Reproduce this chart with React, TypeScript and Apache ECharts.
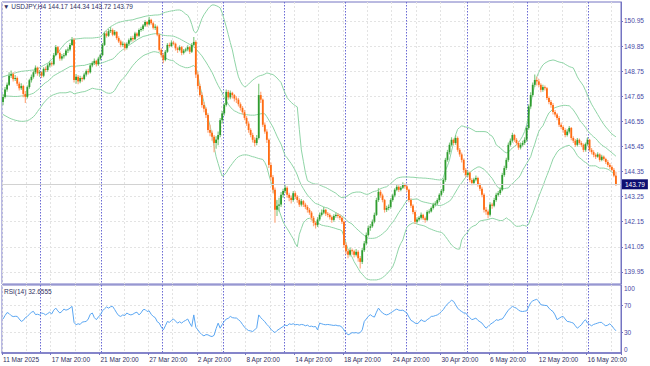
import React, { useEffect, useRef } from "react";
import * as echarts from "echarts";

// ---- DATA ----
// H4 candles: [open, high, low, close]
const candles: number[][] = [
  // 0
  [147.40,147.75,147.25,147.62],[147.62,148.05,147.55,147.95],[147.95,148.25,147.85,148.15],[148.15,148.70,148.10,148.55],[148.55,148.78,148.45,148.62],
  [148.62,148.70,148.30,148.40],[148.40,148.58,148.32,148.45],[148.45,148.52,148.10,148.20],[148.20,148.28,147.90,148.00],[148.00,148.22,147.92,148.10],
  // 10
  [148.10,148.15,147.60,147.75],[147.75,147.88,147.35,147.62],[147.62,148.12,147.55,148.05],[148.05,148.42,147.98,148.35],[148.35,148.60,148.25,148.50],
  [148.50,148.78,148.42,148.70],[148.70,149.00,148.62,148.90],[148.90,148.95,148.55,148.65],[148.65,148.80,148.50,148.70],[148.70,148.75,148.45,148.55],
  // 20
  [148.55,148.92,148.48,148.85],[148.85,148.95,148.70,148.80],[148.80,149.08,148.72,149.00],[149.00,149.20,148.92,149.10],[149.10,149.18,148.95,149.05],
  [149.05,149.55,149.00,149.45],[149.45,149.90,149.40,149.80],[149.80,149.85,149.48,149.55],[149.55,149.62,149.20,149.30],[149.30,149.50,149.22,149.40],
  // 30
  [149.40,149.55,149.30,149.45],[149.45,149.72,149.40,149.65],[149.65,149.80,149.55,149.70],[149.70,149.98,149.62,149.90],[149.90,150.25,149.85,150.12],
  [150.12,150.20,148.25,148.36],[148.36,148.62,148.20,148.50],[148.50,148.58,148.18,148.30],[148.30,148.55,148.22,148.45],[148.45,148.52,148.28,148.40],
  // 40
  [148.40,148.68,148.35,148.60],[148.60,148.82,148.52,148.75],[148.75,148.85,148.60,148.70],[148.70,149.08,148.65,149.00],[149.00,149.18,148.92,149.10],
  [149.10,149.30,149.02,149.20],[149.20,149.25,148.95,149.05],[149.05,149.38,148.98,149.30],[149.30,149.52,149.22,149.45],[149.45,149.98,149.40,149.90],
  // 50
  [149.90,150.48,149.85,150.40],[150.40,150.52,150.22,150.30],[150.30,150.60,150.25,150.50],[150.50,150.68,150.42,150.55],[150.55,150.62,150.28,150.35],
  [150.35,150.55,150.30,150.47],[150.47,150.50,150.12,150.20],[150.20,150.28,149.98,150.05],[150.05,150.12,149.80,149.90],[149.90,150.05,149.82,149.95],
  // 60
  [149.95,150.00,149.65,149.77],[149.77,150.02,149.70,149.95],[149.95,150.18,149.88,150.10],[150.10,150.28,150.02,150.20],[150.20,150.30,150.05,150.15],
  [150.15,150.48,150.10,150.40],[150.40,150.45,150.22,150.30],[150.30,150.62,150.25,150.55],[150.55,150.70,150.48,150.60],[150.60,150.82,150.52,150.75],
  // 70
  [150.75,150.98,150.68,150.90],[150.90,150.95,150.70,150.80],[150.80,151.12,150.75,151.00],[151.00,151.05,150.78,150.85],[150.85,150.92,150.58,150.65],
  [150.65,150.80,150.55,150.70],[150.70,150.75,150.28,150.35],[150.35,150.40,149.60,149.68],[149.68,149.75,149.35,149.45],[149.45,149.55,149.10,149.24],
  // 80
  [149.24,149.68,149.18,149.60],[149.60,149.98,149.55,149.90],[149.90,150.00,149.78,149.85],[149.85,150.10,149.80,150.00],[150.00,150.08,149.88,149.95],
  [149.95,150.00,149.65,149.75],[149.75,149.82,149.55,149.68],[149.68,149.88,149.62,149.80],[149.80,149.85,149.45,149.55],[149.55,149.72,149.48,149.65],
  // 90
  [149.65,149.78,149.58,149.70],[149.70,149.88,149.62,149.80],[149.80,149.85,149.50,149.60],[149.60,149.98,149.55,149.90],[149.90,150.25,149.85,150.03],
  [150.03,150.10,148.45,148.60],[148.60,148.72,147.95,148.10],[148.10,148.20,147.60,147.70],[147.70,147.82,147.15,147.27],[147.27,147.40,146.95,147.10],
  // 100
  [147.10,147.18,146.70,146.83],[146.83,146.90,146.05,146.17],[146.17,146.40,145.90,146.05],[146.05,146.15,145.70,145.87],[145.87,145.95,145.20,145.60],
  [145.60,145.90,145.35,145.75],[145.75,146.10,145.50,145.95],[145.95,146.70,145.85,146.60],[146.60,147.00,146.45,146.90],[146.90,147.35,146.80,147.27],
  // 110
  [147.27,147.95,147.20,147.84],[147.84,147.92,147.50,147.60],[147.60,147.90,147.52,147.80],[147.80,147.85,147.55,147.70],[147.70,147.75,147.42,147.55],
  [147.55,147.65,147.35,147.50],[147.50,147.58,147.20,147.30],[147.30,147.38,147.02,147.14],[147.14,147.22,146.85,146.95],[146.95,147.05,146.60,146.70],
  // 120
  [146.70,146.78,146.35,146.45],[146.45,146.55,146.05,146.17],[146.17,146.25,145.85,145.95],[145.95,146.05,145.62,145.74],[145.74,145.85,145.45,145.60],
  [145.60,145.95,145.50,145.82],[145.82,148.20,145.75,147.70],[147.70,147.85,147.35,147.50],[147.50,147.55,146.30,146.40],[146.40,146.50,146.00,146.10],
  // 130
  [146.10,146.20,145.60,145.74],[145.74,145.80,144.50,144.64],[144.64,144.75,143.95,144.10],[144.10,144.20,143.40,143.55],[143.55,143.65,142.10,142.67],
  [142.67,143.10,142.40,142.85],[142.85,143.20,142.60,142.90],[142.90,143.45,142.80,143.33],[143.33,143.60,143.20,143.50],[143.50,143.80,143.40,143.64],
  // 140
  [143.64,143.70,143.20,143.33],[143.33,143.42,143.05,143.20],[143.20,143.30,142.95,143.10],[143.10,143.50,143.02,143.40],[143.40,143.48,143.15,143.25],
  [143.25,143.32,142.98,143.10],[143.10,143.18,142.80,142.90],[142.90,143.15,142.82,143.05],[143.05,143.10,142.80,142.90],[142.90,142.98,142.70,142.80],
  // 150
  [142.80,142.88,142.55,142.67],[142.67,142.75,142.45,142.55],[142.55,142.62,142.20,142.32],[142.32,142.40,141.95,142.10],[142.10,142.18,141.85,142.00],
  [142.00,142.35,141.92,142.25],[142.25,142.55,142.18,142.45],[142.45,142.68,142.38,142.55],[142.55,142.80,142.48,142.67],[142.67,142.72,142.40,142.50],
  // 160
  [142.50,142.58,142.35,142.45],[142.45,142.52,142.25,142.35],[142.35,142.42,142.10,142.23],[142.23,142.48,142.15,142.40],[142.40,142.55,142.32,142.45],
  [142.45,142.52,142.30,142.40],[142.40,142.48,142.22,142.32],[142.32,142.38,142.05,142.15],[142.15,142.20,141.00,141.13],[141.13,141.25,140.72,140.85],
  // 170
  [140.85,140.95,140.55,140.70],[140.70,141.02,140.62,140.90],[140.90,140.98,140.70,140.85],[140.85,140.92,140.58,140.70],[140.70,140.95,140.62,140.83],
  [140.83,140.90,140.40,140.55],[140.55,140.65,140.10,140.39],[140.39,141.00,140.30,140.90],[140.90,141.30,140.82,141.20],[141.20,141.68,141.12,141.57],
  // 180
  [141.57,141.98,141.50,141.88],[141.88,142.05,141.75,141.95],[141.95,142.25,141.88,142.15],[142.15,142.55,142.08,142.45],[142.45,143.20,142.40,143.10],
  [143.10,143.62,143.02,143.46],[143.46,143.55,143.20,143.30],[143.30,143.38,143.00,143.10],[143.10,143.15,142.55,142.67],[142.67,142.85,142.58,142.75],
  // 190
  [142.75,142.90,142.65,142.80],[142.80,143.18,142.72,143.10],[143.10,143.38,143.02,143.30],[143.30,143.62,143.22,143.55],[143.55,143.78,143.48,143.68],
  [143.68,143.75,143.45,143.55],[143.55,143.72,143.48,143.64],[143.64,143.88,143.58,143.77],[143.77,143.82,143.60,143.70],[143.70,143.75,143.45,143.55],
  // 200
  [143.55,143.60,143.00,143.10],[143.10,143.18,142.75,142.85],[142.85,142.92,142.48,142.58],[142.58,142.65,142.05,142.15],[142.15,142.35,142.08,142.25],
  [142.25,142.40,142.18,142.32],[142.32,142.55,142.25,142.45],[142.45,142.50,142.22,142.30],[142.30,142.38,142.10,142.23],[142.23,142.65,142.18,142.58],
  // 210
  [142.58,142.70,142.50,142.60],[142.60,142.82,142.55,142.75],[142.75,142.98,142.68,142.90],[142.90,143.05,142.82,142.95],[142.95,143.18,142.88,143.10],
  [143.10,143.40,143.02,143.33],[143.33,143.58,143.25,143.50],[143.50,144.05,143.42,143.98],[143.98,144.95,143.90,144.86],[144.86,145.30,144.78,145.20],
  // 220
  [145.20,145.62,145.10,145.52],[145.52,145.85,145.45,145.74],[145.74,145.80,145.50,145.60],[145.60,145.95,145.52,145.82],[145.82,145.88,145.22,145.30],
  [145.30,145.38,145.00,145.10],[145.10,145.18,144.75,144.86],[144.86,144.92,144.30,144.42],[144.42,144.50,144.10,144.20],[144.20,144.40,144.12,144.30],
  // 230
  [144.30,144.35,143.88,143.98],[143.98,144.05,143.75,143.85],[143.85,144.08,143.78,144.00],[144.00,144.18,143.92,144.07],[144.07,144.12,143.68,143.77],
  [143.77,143.85,143.50,143.60],[143.60,143.68,143.22,143.33],[143.33,143.40,142.55,142.67],[142.67,142.80,142.45,142.60],[142.60,142.68,142.30,142.45],
  // 240
  [142.45,143.00,142.38,142.90],[142.90,142.98,142.72,142.85],[142.85,143.20,142.78,143.10],[143.10,143.42,143.02,143.33],[143.33,143.50,143.25,143.40],
  [143.40,143.65,143.32,143.55],[143.55,144.30,143.48,144.20],[144.20,144.60,144.12,144.50],[144.50,144.95,144.42,144.86],[144.86,145.62,144.78,145.52],
  // 250
  [145.52,145.80,145.45,145.70],[145.70,146.05,145.62,145.95],[145.95,146.00,145.65,145.74],[145.74,145.82,145.50,145.60],[145.60,145.68,145.30,145.40],
  [145.40,145.62,145.32,145.52],[145.52,145.70,145.45,145.60],[145.60,145.85,145.52,145.74],[145.74,146.35,145.65,146.26],[146.26,147.30,146.18,147.20],
  // 260
  [147.20,147.82,147.10,147.70],[147.70,148.25,147.62,148.15],[148.15,148.60,148.05,148.36],[148.36,148.50,148.12,148.30],[148.30,148.40,148.05,148.15],
  [148.15,148.22,147.82,147.93],[147.93,148.15,147.85,148.05],[148.05,148.12,147.90,148.00],[148.00,148.05,147.48,147.57],[147.57,147.65,147.30,147.40],
  // 270
  [147.40,147.48,147.15,147.27],[147.27,147.35,146.85,146.96],[146.96,147.05,146.75,146.85],[146.85,146.92,146.60,146.70],[146.70,146.78,146.30,146.40],
  [146.40,146.50,146.20,146.30],[146.30,146.38,146.05,146.17],[146.17,146.25,145.85,145.95],[145.95,146.20,145.88,146.10],[146.10,146.35,146.02,146.26],
  // 280
  [146.26,146.30,145.72,145.82],[145.82,145.90,145.60,145.70],[145.70,145.78,145.42,145.52],[145.52,145.82,145.45,145.74],[145.74,145.80,145.52,145.60],
  [145.60,145.68,145.42,145.52],[145.52,145.58,145.20,145.30],[145.30,145.62,145.22,145.55],[145.55,145.85,145.48,145.74],[145.74,145.78,145.22,145.30],
  // 290
  [145.30,145.38,145.10,145.20],[145.20,145.28,144.98,145.08],[145.08,145.15,144.90,145.00],[145.00,145.20,144.95,145.10],[145.10,145.15,144.78,144.86],
  [144.86,145.08,144.80,145.00],[145.00,145.05,144.82,144.90],[144.90,144.95,144.68,144.77],[144.77,144.85,144.55,144.64],[144.64,144.72,144.45,144.55],
  // 300
  [144.55,144.62,144.35,144.42],[144.42,144.50,144.10,144.17],[144.17,144.34,143.72,143.79],
];

const bbUpper: number[] = [
  148.50,148.53,148.56,148.59,148.62,148.65,148.67,148.70,148.72,148.74,
  148.75,148.76,148.77,148.78,148.79,148.80,148.82,148.86,148.90,148.95,
  149.00,149.05,149.10,149.18,149.26,149.35,149.45,149.56,149.68,149.80,
  149.90,150.00,150.06,150.12,150.14,150.15,150.16,150.17,150.18,150.19,
  150.20,150.20,150.20,150.20,150.20,150.21,150.22,150.23,150.25,150.35,
  150.45,150.55,150.63,150.70,150.75,150.80,150.85,150.88,150.91,150.93,
  150.95,150.97,150.98,150.99,151.00,151.03,151.06,151.08,151.10,151.13,
  151.15,151.17,151.18,151.19,151.20,151.21,151.21,151.22,151.25,151.30,
  151.33,151.35,151.37,151.39,151.40,151.42,151.43,151.43,151.40,151.33,
  151.25,151.20,151.05,150.80,150.50,150.42,150.55,150.80,151.05,151.22,
  151.35,151.48,151.58,151.65,151.65,151.62,151.58,151.52,151.30,151.00,
  150.69,150.35,150.00,149.68,149.25,148.85,148.50,148.30,148.15,148.06,
  148.10,148.18,148.27,148.36,148.42,148.48,148.53,148.56,148.58,148.62,
  148.67,148.65,148.62,148.60,148.53,148.45,148.35,148.25,148.00,147.78,
  147.58,147.48,147.38,147.30,147.24,147.18,146.20,145.30,144.80,144.30,
  143.95,143.90,143.85,143.82,143.80,143.80,143.76,143.72,143.68,143.65,
  143.60,143.55,143.50,143.45,143.40,143.32,143.25,143.20,143.22,143.25,
  143.30,143.36,143.41,143.43,143.45,143.45,143.45,143.42,143.38,143.35,
  143.36,143.40,143.45,143.48,143.50,143.55,143.60,143.63,143.66,143.68,
  143.75,143.82,143.90,143.98,144.05,144.08,144.10,144.11,144.11,144.11,
  144.11,144.10,144.10,144.09,144.08,144.07,144.07,144.06,144.06,144.05,
  144.04,144.03,144.02,144.00,143.99,143.98,143.98,144.10,144.40,144.60,
  144.86,145.25,145.60,145.95,146.20,146.28,146.35,146.33,146.30,146.28,
  146.25,146.20,146.15,146.10,146.10,146.10,146.10,146.10,146.09,146.05,
  145.95,145.90,145.75,145.52,145.45,145.38,145.30,145.22,145.17,145.20,
  145.30,145.38,145.45,145.52,145.62,145.75,145.90,146.10,146.39,146.80,
  147.30,147.75,148.15,148.50,148.70,148.88,149.02,149.10,149.15,149.20,
  149.22,149.24,149.22,149.18,149.15,149.13,149.11,149.05,149.00,148.95,
  148.92,148.89,148.70,148.50,148.35,148.23,148.10,147.90,147.70,147.49,
  147.30,147.15,147.00,146.85,146.70,146.55,146.42,146.30,146.20,146.09,
  146.00,145.93,145.87,
];

const bbMiddle: number[] = [
  147.68,147.67,147.66,147.65,147.65,147.64,147.64,147.64,147.65,147.66,
  147.67,147.68,147.70,147.72,147.75,147.78,147.85,147.92,148.00,148.08,
  148.18,148.25,148.30,148.38,148.47,148.55,148.60,148.65,148.70,148.75,
  148.80,148.85,148.90,148.95,148.97,148.95,148.97,148.98,148.99,149.00,
  149.00,149.03,149.05,149.08,149.10,149.10,149.09,149.09,149.09,149.12,
  149.15,149.18,149.22,149.25,149.28,149.35,149.45,149.55,149.62,149.69,
  149.75,149.82,149.88,149.94,150.00,150.06,150.12,150.18,150.22,150.27,
  150.29,150.31,150.34,150.36,150.38,150.39,150.39,150.38,150.35,150.32,
  150.31,150.30,150.30,150.29,150.28,150.25,150.21,150.17,150.12,150.07,
  150.02,149.97,149.92,149.87,149.81,149.73,149.63,149.52,149.42,149.28,
  149.15,149.00,148.85,148.70,148.50,148.30,148.12,147.96,147.80,147.60,
  147.45,147.30,147.18,147.08,147.01,146.97,146.92,146.89,146.87,146.85,
  146.84,146.83,146.82,146.82,146.82,146.84,146.86,146.88,146.89,146.88,
  146.75,146.60,146.45,146.30,146.10,145.90,145.72,145.55,145.30,145.05,
  144.95,144.82,144.70,144.55,144.40,144.20,143.95,143.75,143.60,143.45,
  143.32,143.22,143.12,143.02,142.95,142.92,142.88,142.84,142.80,142.77,
  142.75,142.70,142.65,142.60,142.55,142.50,142.45,142.40,142.33,142.25,
  142.15,142.10,142.05,141.95,141.86,141.78,141.70,141.62,141.55,141.47,
  141.43,141.42,141.42,141.43,141.45,141.50,141.55,141.62,141.70,141.77,
  141.90,142.02,142.12,142.25,142.40,142.55,142.68,142.80,142.95,143.08,
  143.12,143.13,143.13,143.14,143.15,143.10,143.05,143.02,143.00,142.98,
  142.96,142.94,142.92,142.88,142.87,142.86,142.87,142.90,142.95,143.00,
  143.05,143.15,143.30,143.45,143.60,143.75,143.85,143.98,144.10,144.22,
  144.30,144.38,144.45,144.50,144.55,144.55,144.50,144.45,144.35,144.26,
  144.15,144.05,143.90,143.75,143.64,143.60,143.60,143.60,143.62,143.63,
  143.75,143.82,143.90,144.00,144.07,144.20,144.40,144.55,144.70,144.85,
  145.00,145.30,145.55,145.85,146.10,146.25,146.35,146.55,146.75,146.92,
  147.00,147.10,147.15,147.18,147.21,147.23,147.25,147.25,147.24,147.23,
  147.15,147.05,146.92,146.78,146.62,146.50,146.40,146.28,146.15,146.04,
  145.95,145.87,145.80,145.70,145.59,145.52,145.45,145.40,145.32,145.25,
  145.17,145.10,145.02,
];

const bbLower: number[] = [
  146.85,146.80,146.75,146.70,146.66,146.63,146.60,146.58,146.56,146.55,
  146.55,146.56,146.58,146.62,146.68,146.75,146.85,146.98,147.10,147.22,
  147.35,147.45,147.55,147.62,147.68,147.72,147.75,147.78,147.80,147.80,
  147.80,147.80,147.82,147.85,147.82,147.75,147.78,147.80,147.82,147.84,
  147.85,147.88,147.92,147.96,148.00,147.98,147.96,147.95,147.95,147.90,
  147.85,147.80,147.78,147.78,147.82,147.90,148.05,148.20,148.32,148.42,
  148.50,148.62,148.75,148.88,149.00,149.10,149.20,149.28,149.35,149.42,
  149.47,149.50,149.54,149.57,149.60,149.60,149.58,149.55,149.48,149.40,
  149.34,149.28,149.24,149.22,149.20,149.12,149.06,149.00,148.96,148.93,
  148.90,148.90,148.92,148.96,149.00,148.90,148.60,148.10,147.75,147.40,
  147.05,146.70,146.35,145.95,145.45,145.00,144.70,144.40,144.15,144.20,
  144.30,144.45,144.58,144.70,144.82,144.92,145.00,145.04,145.07,145.08,
  145.08,145.06,145.03,145.00,144.98,144.95,144.92,144.90,144.88,144.75,
  144.55,144.20,143.90,143.60,143.25,142.90,142.65,142.40,142.15,141.98,
  141.85,141.70,141.55,141.40,141.20,141.05,141.60,141.85,142.10,142.20,
  142.28,142.30,142.25,142.20,142.15,142.10,142.05,142.00,141.98,141.96,
  141.95,141.93,141.90,141.88,141.85,141.82,141.80,141.75,141.50,141.20,
  140.95,140.75,140.60,140.40,140.25,140.10,139.95,139.85,139.75,139.65,
  139.62,139.60,139.60,139.60,139.60,139.62,139.65,139.70,139.77,139.85,
  139.95,140.05,140.17,140.40,140.70,141.00,141.20,141.35,141.65,141.90,
  142.00,142.05,142.10,142.08,142.05,142.02,142.00,141.98,141.95,141.90,
  141.85,141.82,141.78,141.75,141.72,141.70,141.68,141.62,141.50,141.38,
  141.25,141.13,141.05,140.98,140.95,140.95,141.35,141.50,141.60,141.70,
  141.85,141.92,141.97,142.00,142.10,142.18,142.20,142.22,142.23,142.25,
  142.28,142.30,142.28,142.25,142.22,142.20,142.20,142.25,142.32,142.25,
  142.20,142.10,142.00,141.95,141.95,141.96,142.00,141.98,141.95,142.05,
  142.30,142.50,142.75,143.00,143.25,143.48,143.70,143.95,144.18,144.40,
  144.65,144.90,145.05,145.20,145.30,145.36,145.40,145.45,145.48,145.50,
  145.42,145.35,145.20,145.05,144.95,144.90,144.80,144.75,144.68,144.60,
  144.60,144.60,144.60,144.55,144.50,144.50,144.50,144.48,144.45,144.40,
  144.32,144.25,144.15,
];

const rsiValues: number[] = [
  50,55,59.5,58,55,53.5,54,53.8,50,46.5,
  48,52,53.8,57,60,61.2,56.5,57,56,58.8,
  58,56,58,60,57.5,63,66,62,58.8,61,
  64.6,63,64,66,68.6,45,41.5,43,42,45.4,
  46,46.4,50,57,58.8,52,49,53,56,62,
  65,67.7,66,68,68.6,64,59,55,53.8,56,
  55,58.8,57,56,57,59,60,56,59,63.6,
  64,61,62,57,53.8,52,46,43.9,38,34,
  40,46.4,45,48,50,47,43.9,46,44,46.4,
  48,50,44,39,56,38,34,30,27,25.2,
  27,26.7,25,24.2,26,36,43.9,36.5,42,46.4,
  50,51,53.8,52,51.5,51.4,49,46.4,42,38,
  35,33,32.5,31.6,34,37,56,52,49,46,
  42,39,35,32,30,33,35,37,39,41,
  40,43,42,43,41.5,42,41,42,41.5,40,
  41,39,39.5,38.5,39,34,44,43,42,41.5,
  42,41.5,41,40.5,41,40,40,38,34,30,
  26.7,28,30,29.5,30,29,30,34,46.4,50,
  54,56.3,54,52.8,60,66,62,58.8,57,56,
  57,59,61,63,64.6,63,62.6,63,61,58.8,
  53,48,46.4,44,43,45,49,47,46.4,49,
  51,53.8,54,55,56,58,61,64,68.6,72,
  75,77.5,76,71,66,63,61,59,58.8,55,
  52,49,50,51.4,48,46,44,40,36.5,39,
  42,44,46,49,48,49.5,50,54,58.8,63,
  66,68.6,67,66,63,61.5,61,61.5,62,68,
  74,76.6,78,78.9,76,71,70.5,70,69.7,66,
  63,61,56,49,51,53,53.8,50,46.4,46,
  45,44,40,36.5,39,41.5,46,49,44,42,
  40,42,43,44,45,45,42,40,41,43,
  40,36,32.66,
];

const priceTicks: number[] = [139.95, 141.05, 142.15, 143.25, 144.35, 145.45, 146.55, 147.65, 148.75, 149.85, 150.95];
const rsiTicks: number[] = [0, 30, 70, 100];
const rsiLevels: number[] = [30, 70];
const lastPrice = 143.79;
const symbolTitle = "\u25BC USDJPY,H4 144.17 144.34 143.72 143.79";
const rsiTitle = "RSI(14) 32.6555";
const firstBarTime = Date.UTC(2025, 2, 11, 20);
const firstBarLabel = "11 Mar 2025";
const emptySlotsRight = 2; // blank bar slots after the last candle (chart shift)

const MONTHS = ["Jan", "Feb", "Mar", "Apr", "May", "Jun", "Jul", "Aug", "Sep", "Oct", "Nov", "Dec"];

function buildTimes(n: number): Date[] {
  const out: Date[] = [];
  let t = firstBarTime;
  for (let i = 0; i < n; i++) {
    out.push(new Date(t));
    t += 4 * 3600 * 1000;
    let d = new Date(t);
    while (d.getUTCDay() === 0 || d.getUTCDay() === 6) {
      t += 4 * 3600 * 1000;
      d = new Date(t);
    }
  }
  return out;
}

const times = buildTimes(candles.length + emptySlotsRight);
const categories = times.map((d, i) => {
  if (i === 0) return firstBarLabel;
  const hh = String(d.getUTCHours()).padStart(2, "0");
  return `${d.getUTCDate()} ${MONTHS[d.getUTCMonth()]} ${hh}:00`;
});
const weekStart = times.map((d) => d.getUTCDay() === 1 && d.getUTCHours() === 0);

// ---- STYLE ----
const FONT = "Liberation Sans, Arial, sans-serif";
const FRAME = "#7474c2";
const AXIS_TEXT = "#4848a4";
const DARK_TEXT = "#2f2f62";
const GRID_GRAY = "#e3e3e3";
const SEP_BLUE = "#6a6ad4";
const BULL = "#2f9c2f";
const BEAR = "#ff6c12";
const BULL_WICK = "#86cb86";
const BEAR_WICK = "#ffab80";
const BAND = "#8fd4a6";
const RSI_COLOR = "#5aa6f2";

export default function App() {
  const ref = useRef<HTMLDivElement>(null);

  useEffect(() => {
    if (!ref.current) return;
    const chart = echarts.init(ref.current, undefined, { renderer: "svg" });

    const candleData = candles.map((c, i) => [i, c[0], c[1], c[2], c[3]]);

    const grayLines = (i: number) => i % 12 === 0;
    const labelAt = (i: number) => i % 24 === 0 && i < candles.length;
    const sepAt = (i: number) => weekStart[i];

    const option: any = {
      animation: false,
      backgroundColor: "#ffffff",
      textStyle: { fontFamily: FONT },
      title: [
        {
          text: symbolTitle,
          left: 3,
          top: 3,
          padding: 0,
          textStyle: { fontSize: 6.5, color: DARK_TEXT, fontWeight: "normal", fontFamily: FONT },
        },
        {
          text: rsiTitle,
          left: 4,
          top: 288,
          padding: 0,
          textStyle: { fontSize: 6.5, color: DARK_TEXT, fontWeight: "normal", fontFamily: FONT },
        },
      ],
      grid: [
        { left: 2, right: 29, top: 2, height: 282, show: true, borderColor: FRAME, borderWidth: 1, backgroundColor: "transparent" },
        { left: 2, right: 29, top: 285, height: 68, show: true, borderColor: FRAME, borderWidth: 1, backgroundColor: "transparent" },
      ],
      xAxis: [
        {
          type: "category", gridIndex: 0, data: categories, boundaryGap: true,
          axisLine: { show: false }, axisTick: { show: false }, axisLabel: { show: false },
          splitLine: { show: true, interval: grayLines, lineStyle: { color: GRID_GRAY, type: [2, 2], width: 1 } },
        },
        {
          type: "category", gridIndex: 1, data: categories, boundaryGap: true,
          axisLine: { show: true, lineStyle: { color: FRAME, width: 1.5 } },
          axisTick: { show: true, interval: labelAt, length: 2, lineStyle: { color: FRAME } },
          axisLabel: {
            show: true, interval: labelAt, align: "left", margin: 3,
            fontSize: 6.5, color: DARK_TEXT, fontFamily: FONT,
          },
          splitLine: { show: true, interval: grayLines, lineStyle: { color: GRID_GRAY, type: [2, 2], width: 1 } },
        },
        {
          type: "category", gridIndex: 0, data: categories, boundaryGap: true,
          axisLine: { show: false }, axisTick: { show: false }, axisLabel: { show: false },
          splitLine: { show: true, interval: sepAt, lineStyle: { color: SEP_BLUE, type: [1.5, 1.5], width: 1 } },
        },
        {
          type: "category", gridIndex: 1, data: categories, boundaryGap: true,
          axisLine: { show: false }, axisTick: { show: false }, axisLabel: { show: false },
          splitLine: { show: true, interval: sepAt, lineStyle: { color: SEP_BLUE, type: [1.5, 1.5], width: 1 } },
        },
      ],
      yAxis: [
        {
          type: "value", gridIndex: 0, position: "right", min: 139.42, max: 151.78, scale: true,
          axisLine: { show: true, lineStyle: { color: FRAME } },
          axisTick: { show: true, customValues: priceTicks, length: 2, lineStyle: { color: FRAME } },
          axisLabel: {
            show: true, customValues: priceTicks, margin: 3, fontSize: 6.5, color: AXIS_TEXT, fontFamily: FONT,
            formatter: (v: number) => v.toFixed(2),
          },
          splitLine: { show: true, lineStyle: { color: GRID_GRAY, type: [2, 2], width: 1 } },
        },
        {
          type: "value", gridIndex: 1, position: "right", min: 0, max: 100,
          axisLine: { show: true, lineStyle: { color: FRAME } },
          axisTick: { show: true, customValues: rsiLevels, length: 2, lineStyle: { color: FRAME } },
          axisLabel: {
            show: true, customValues: rsiTicks, margin: 3, fontSize: 6.5, color: AXIS_TEXT, fontFamily: FONT,
            formatter: (v: number) => (v === 100 ? "{t|100}" : v === 0 ? "{b|0}" : String(v)),
            rich: {
              t: { fontSize: 6.5, color: AXIS_TEXT, fontFamily: FONT, padding: [7, 0, 0, 0] },
              b: { fontSize: 6.5, color: AXIS_TEXT, fontFamily: FONT, padding: [0, 0, 7, 0] },
            },
          },
          splitLine: { show: true, lineStyle: { color: GRID_GRAY, type: [2, 2], width: 1 } },
        },
      ],
      series: [
        {
          name: "bbUpper", type: "line", xAxisIndex: 0, yAxisIndex: 0, data: bbUpper,
          symbol: "none", lineStyle: { color: BAND, width: 1 }, silent: true, z: 2,
        },
        {
          name: "bbMiddle", type: "line", xAxisIndex: 0, yAxisIndex: 0, data: bbMiddle,
          symbol: "none", lineStyle: { color: BAND, width: 1 }, silent: true, z: 2,
          markLine: {
            silent: true, symbol: ["none", "none"],
            lineStyle: { color: "#d2d2d2", type: "solid", width: 1 },
            label: {
              show: true, position: "end", distance: 1,
              formatter: () => lastPrice.toFixed(2),
              color: "#ffffff", backgroundColor: "#0e0e72", padding: [2, 3, 1, 3],
              fontSize: 6.5, fontFamily: FONT,
            },
            data: [{ yAxis: lastPrice }],
          },
        },
        {
          name: "bbLower", type: "line", xAxisIndex: 0, yAxisIndex: 0, data: bbLower,
          symbol: "none", lineStyle: { color: BAND, width: 1 }, silent: true, z: 2,
        },
        {
          name: "candles", type: "custom", xAxisIndex: 0, yAxisIndex: 0, data: candleData,
          encode: { x: 0, y: [1, 2, 3, 4] }, z: 3, silent: true,
          renderItem: (_params: any, api: any) => {
            const i = api.value(0);
            const o = api.value(1), h = api.value(2), l = api.value(3), c = api.value(4);
            const pO = api.coord([i, o]);
            const x = pO[0];
            const yO = pO[1];
            const yC = api.coord([i, c])[1];
            const yH = api.coord([i, h])[1];
            const yL = api.coord([i, l])[1];
            const up = c >= o;
            const w = 1.8;
            const top = Math.min(yO, yC);
            const bh = Math.max(Math.abs(yO - yC), 0.9);
            return {
              type: "group",
              children: [
                { type: "line", shape: { x1: x, y1: yH, x2: x, y2: yL }, style: { stroke: up ? BULL_WICK : BEAR_WICK, lineWidth: 1.2 } },
                { type: "rect", shape: { x: x - w / 2, y: top, width: w, height: bh }, style: { fill: up ? BULL : BEAR } },
              ],
            };
          },
        },
        {
          name: "rsi", type: "line", xAxisIndex: 1, yAxisIndex: 1, data: rsiValues,
          symbol: "none", lineStyle: { color: RSI_COLOR, width: 1 }, silent: true,
        },
      ],
    };

    chart.setOption(option);
    return () => chart.dispose();
  }, []);

  return (
    <div
      ref={ref}
      style={{ position: "fixed", left: 0, top: 0, width: 650, height: 366, background: "#ffffff" }}
    />
  );
}
